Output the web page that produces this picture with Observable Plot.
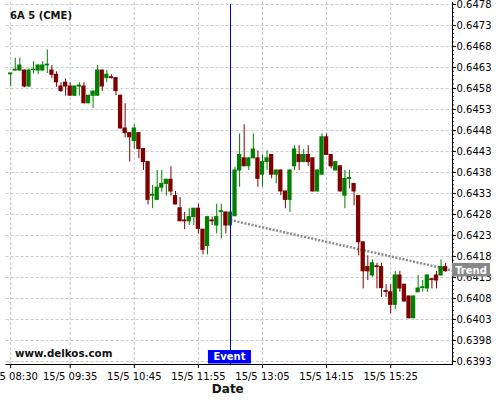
<!DOCTYPE html>
<html><head><meta charset="utf-8">
<script src="https://cdn.jsdelivr.net/npm/d3@7"></script>
<script src="https://cdn.jsdelivr.net/npm/@observablehq/plot@0.6"></script>
<style>
html,body{margin:0;padding:0;background:#fff;overflow:hidden;}
#chart{width:500px;height:400px;}
</style></head><body><div id="chart"></div>
<script>
const symbolTitle = "6A 5 (CME)";
const siteLabel = "www.delkos.com";
const xAxisTitle = "Date";
const startMinute = 510;   // 08:30, one candle every 5 minutes
const stepMinutes = 5;

const open = [0.64614,0.64623,0.64623,0.64623,0.64585,0.64624,0.64623,0.64623,0.64635,0.64623,
0.64613,0.64585,0.64594,0.64585,0.64563,0.64585,0.64585,0.64545,0.64563,0.64563,
0.64623,0.64605,0.64607,0.64605,0.64563,0.64485,0.64474,0.64455,0.64474,0.64436,
0.64405,0.64325,0.64315,0.64344,0.64353,0.64363,0.64324,0.64295,0.64266,0.64264,
0.64274,0.64294,0.64244,0.64205,0.64266,0.64254,0.64286,0.64285,0.64254,0.64276,
0.64385,0.64414,0.64395,0.64414,0.64414,0.64375,0.64405,0.64422,0.64375,0.64385,
0.64335,0.64315,0.64395,0.64422,0.64405,0.64422,0.64414,0.64335,0.64375,0.64464,
0.64422,0.64385,0.64395,0.64325,0.64365,0.64353,0.64324,0.64214,0.64155,0.64135,
0.64157,0.64155,0.64098,0.64095,0.64065,0.64135,0.64113,0.64085,0.64033,0.64095,
0.64105,0.64104,0.64126,0.64135,0.64135,0.64155];
const high = [0.64617,0.64652,0.64652,0.64624,0.64627,0.64644,0.64636,0.64644,0.64672,0.64635,
0.64620,0.64594,0.64603,0.64594,0.64585,0.64594,0.64594,0.64564,0.64574,0.64635,
0.64624,0.64623,0.64613,0.64606,0.64564,0.64544,0.64475,0.64494,0.64475,0.64437,
0.64406,0.64349,0.64385,0.64385,0.64364,0.64394,0.64335,0.64321,0.64285,0.64294,
0.64295,0.64305,0.64245,0.64275,0.64274,0.64305,0.64305,0.64286,0.64286,0.64393,
0.64472,0.64494,0.64415,0.64472,0.64432,0.64422,0.64432,0.64423,0.64386,0.64386,
0.64336,0.64386,0.64444,0.64444,0.64435,0.64444,0.64415,0.64386,0.64472,0.64472,
0.64423,0.64406,0.64396,0.64385,0.64385,0.64354,0.64325,0.64215,0.64182,0.64172,
0.64164,0.64164,0.64113,0.64113,0.64145,0.64145,0.64114,0.64086,0.64086,0.64135,
0.64123,0.64136,0.64127,0.64145,0.64172,0.64164];
const low = [0.64585,0.64622,0.64622,0.64582,0.64583,0.64615,0.64613,0.64622,0.64616,0.64604,
0.64583,0.64571,0.64562,0.64562,0.64561,0.64562,0.64544,0.64544,0.64533,0.64562,
0.64573,0.64594,0.64603,0.64563,0.64484,0.64463,0.64405,0.64436,0.64413,0.64385,
0.64303,0.64294,0.64314,0.64333,0.64324,0.64324,0.64303,0.64263,0.64244,0.64254,
0.64254,0.64234,0.64184,0.64184,0.64254,0.64234,0.64222,0.64234,0.64253,0.64275,
0.64345,0.64394,0.64385,0.64413,0.64345,0.64345,0.64385,0.64365,0.64353,0.64325,
0.64294,0.64285,0.64385,0.64385,0.64404,0.64395,0.64334,0.64334,0.64374,0.64421,
0.64389,0.64384,0.64334,0.64294,0.64341,0.64301,0.64182,0.64103,0.64123,0.64131,
0.64103,0.64083,0.64083,0.64044,0.64054,0.64095,0.64072,0.64032,0.64032,0.64094,
0.64095,0.64095,0.64103,0.64103,0.64134,0.64143];
const close = [0.64616,0.64625,0.64635,0.64585,0.64623,0.64625,0.64635,0.64635,0.64637,0.64613,
0.64595,0.64574,0.64585,0.64563,0.64585,0.64587,0.64545,0.64563,0.64573,0.64623,
0.64585,0.64613,0.64605,0.64574,0.64485,0.64474,0.64464,0.64485,0.64436,0.64405,
0.64315,0.64327,0.64344,0.64353,0.64363,0.64335,0.64304,0.64264,0.64264,0.64274,
0.64294,0.64246,0.64196,0.64274,0.64264,0.64274,0.64288,0.64254,0.64285,0.64385,
0.64422,0.64395,0.64414,0.64435,0.64365,0.64405,0.64414,0.64375,0.64385,0.64335,
0.64315,0.64385,0.64435,0.64405,0.64422,0.64405,0.64335,0.64385,0.64464,0.64422,
0.64395,0.64405,0.64335,0.64365,0.64367,0.64335,0.64214,0.64145,0.64145,0.64164,
0.64155,0.64105,0.64096,0.64065,0.64135,0.64104,0.64073,0.64033,0.64085,0.64104,
0.64107,0.64135,0.64124,0.64123,0.64155,0.64145];

const xTickMinutes = [510, 575, 645, 715, 785, 855, 925];
const xTickLabels = ["15/5 08:30","15/5 09:35","15/5 10:45","15/5 11:55","15/5 13:05","15/5 14:15","15/5 15:25"];
const yTicks = [0.6393,0.6398,0.6403,0.6408,0.6413,0.6418,0.6423,0.6428,0.6433,0.6438,0.6443,0.6448,0.6453,0.6458,0.6463,0.6468,0.6473,0.6478];
const xDomain = [505, 992.5];
const yDomain = [0.63923, 0.64785];

const eventMinute = 750;   // 12:30
const eventLabel = "Event";
const trendMinutes = [750, 992.5];
const trendValues = [0.64267, 0.64147];
const trendLabel = "Trend";

const UP = "#008000", DOWN = "#800000";
const candles = open.map((o, i) => ({t: startMinute + i * stepMinutes, o, h: high[i], l: low[i], c: close[i]}));
const ups = candles.filter(d => d.c >= d.o);
const downs = candles.filter(d => d.c < d.o);
const trendSegment = [{t1: trendMinutes[0], v1: trendValues[0], t2: trendMinutes[1], v2: trendValues[1]}];
const tickLabelMap = new Map(xTickMinutes.map((m, i) => [m, xTickLabels[i]]));
const half = stepMinutes / 2;

const bodyOpts = {x1: d => d.t - half, x2: d => d.t + half, y1: "o", y2: "c", insetLeft: 0.15, insetRight: 0.15, insetTop: -0.5, insetBottom: -0.5};

const plot = Plot.plot({
  width: 500, height: 400,
  marginTop: 2, marginBottom: 36, marginLeft: 5.6, marginRight: 48,
  style: {fontFamily: "DejaVu Sans", fontSize: "10px", color: "#000", background: "#fff"},
  x: {domain: xDomain, ticks: xTickMinutes, tickFormat: d => tickLabelMap.get(d) ?? "", tickSize: 4, tickPadding: 4.5, line: true, label: null},
  y: {domain: yDomain, axis: "right", ticks: yTicks, tickFormat: d => d.toFixed(4), tickSize: 3, tickPadding: 1, line: true, label: null},
  marks: [
    Plot.ruleY(yTicks, {stroke: "#c8c8c8", strokeDasharray: "3,2"}),
    Plot.ruleX(xTickMinutes, {stroke: "#c8c8c8", strokeDasharray: "3,2"}),
    Plot.link(trendSegment, {x1: "t1", y1: "v1", x2: "t2", y2: "v2", stroke: "#8a8a8a", strokeWidth: 2.5, strokeDasharray: "2,1.6"}),
    Plot.ruleX(ups, {x: "t", y1: "l", y2: "h", stroke: UP, strokeWidth: 1}),
    Plot.ruleX(downs, {x: "t", y1: "l", y2: "h", stroke: DOWN, strokeWidth: 1}),
    Plot.rect(ups, {...bodyOpts, fill: UP}),
    Plot.rect(downs, {...bodyOpts, fill: DOWN}),
    Plot.ruleX([eventMinute], {y1: yTicks[yTicks.length - 1], y2: yDomain[0], stroke: "#0000c0", strokeWidth: 1, shapeRendering: "crispEdges"})
  ]
});

document.getElementById("chart").appendChild(plot);
const svg = d3.select(plot);
svg.selectAll('g[aria-label="link"] path, g[aria-label="link"] line')
  .style("stroke-dasharray", "2,1.6").style("stroke-width", "2.5px");

const xs = plot.scale("x"), ys = plot.scale("y");
const frameLeft = xs.range[0], frameRight = xs.range[1];
const frameTop = ys.range[1], frameBottom = ys.range[0];

// minor ticks on the right axis
const minorY = d3.range(0, 86).map(k => +(yTicks[0] + k * 0.0001).toFixed(4));
svg.append("g").selectAll("line").data(minorY).join("line")
  .attr("x1", frameRight).attr("x2", frameRight + 2)
  .attr("y1", d => ys.apply(d)).attr("y2", d => ys.apply(d))
  .attr("stroke", "#000").attr("stroke-width", 0.8);

// title
svg.append("text").attr("x", frameLeft + 4.5).attr("y", frameTop + 17).attr("text-anchor", "start")
  .attr("font-weight", "bold").attr("font-size", 10).attr("fill", "#111").text(symbolTitle);
// site label
svg.append("text").attr("x", frameLeft + 9.5).attr("y", frameBottom - 7.5).attr("text-anchor", "start")
  .attr("font-weight", "bold").attr("font-size", 10.3).attr("fill", "#111").text(siteLabel);
// axis title
svg.append("text").attr("x", (frameLeft + frameRight) / 2 - 1).attr("y", frameBottom + 29)
  .attr("text-anchor", "middle").attr("font-weight", "bold").attr("font-size", 12).attr("fill", "#111").text(xAxisTitle);

// event box
const ex = xs.apply(eventMinute);
svg.append("rect").attr("x", ex - 22).attr("y", frameBottom - 14).attr("width", 43).attr("height", 13.5).attr("fill", "#0000ff");
svg.append("text").attr("x", ex - 0.5).attr("y", frameBottom - 3.6).attr("text-anchor", "middle")
  .attr("font-weight", "bold").attr("font-size", 10).attr("fill", "#fff").text(eventLabel);

// trend box
const ty = ys.apply(trendValues[trendValues.length - 1]);
svg.append("rect").attr("x", frameRight).attr("y", ty - 7).attr("width", 38).attr("height", 13.5).attr("fill", "#888");
svg.append("text").attr("x", frameRight + 19).attr("y", ty + 3.6).attr("text-anchor", "middle")
  .attr("font-weight", "bold").attr("font-size", 10).attr("fill", "#fff").text(trendLabel);
</script></body></html>
